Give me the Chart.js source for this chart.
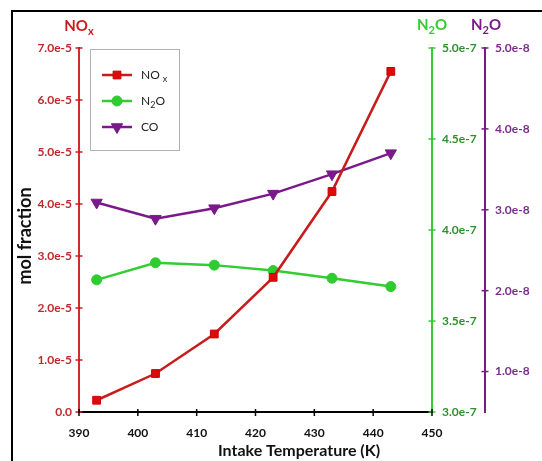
<!DOCTYPE html>
<html>
<head>
<meta charset="utf-8">
<script src="https://cdn.jsdelivr.net/npm/chart.js@4/dist/chart.umd.min.js"></script>
<style>
  html, body { margin: 0; padding: 0; background: #fff; }
  #wrap { position: relative; width: 542px; height: 461px; overflow: hidden; }
  #frame { position: absolute; left: 11px; top: 10px; width: 600px; height: 500px; border: 2px solid #000; }
  #chart { position: absolute; left: 0; top: 0; }
</style>
</head>
<body>
<div id="wrap">
  <div id="frame"></div>
  <canvas id="chart" width="542" height="461"></canvas>
</div>
<script>
var temperatures = [393, 403, 413, 423, 433, 443];
var noxValues = [2.26e-6, 7.4e-6, 1.5e-5, 2.59e-5, 4.24e-5, 6.55e-5];
var n2oValues = [3.726e-7, 3.82e-7, 3.807e-7, 3.777e-7, 3.735e-7, 3.689e-7];
var coValues = [3.09e-8, 2.89e-8, 3.02e-8, 3.2e-8, 3.44e-8, 3.7e-8];

var xTicks = [390, 400, 410, 420, 430, 440, 450];
var noxTicks = [0, 1e-5, 2e-5, 3e-5, 4e-5, 5e-5, 6e-5, 7e-5];
var n2oTicks = [3e-7, 3.5e-7, 4e-7, 4.5e-7, 5e-7];
var coTicks = [1e-8, 2e-8, 3e-8, 4e-8, 5e-8];

var FONT = 'Lato, "Open Sans", sans-serif';
var RED = '#c81c1c', RED_TEXT = '#c0282d';
var GREEN = '#33cc33', GREEN_TEXT = '#2f8f2f';
var PURPLE = '#7a1a8a', PURPLE_TEXT = '#7b2d8b';

function points(values) {
  return temperatures.map(function (t, i) { return { x: t, y: values[i] }; });
}

function setTicks(list) {
  return function (scale) {
    scale.ticks = list.map(function (v) { return { value: v }; });
  };
}

function fmt(v) {
  return v === 0 ? '0.0' : v.toExponential(1);
}

function fixWidth(w) {
  return function (scale) { scale.width = w; };
}

// text with subscripts: parts = [[text, isSub], ...]
function drawParts(ctx, parts, cx, baseline, size, color, weight) {
  var subSize = Math.round(size * 0.75);
  var total = 0;
  parts.forEach(function (p) {
    ctx.font = weight + ' ' + (p[1] ? subSize : size) + 'px ' + FONT;
    total += ctx.measureText(p[0]).width;
  });
  var x = cx - total / 2;
  ctx.fillStyle = color;
  ctx.textAlign = 'left';
  ctx.textBaseline = 'alphabetic';
  parts.forEach(function (p) {
    ctx.font = weight + ' ' + (p[1] ? subSize : size) + 'px ' + FONT;
    ctx.fillText(p[0], x, baseline + (p[1] ? size * 0.25 : 0));
    x += ctx.measureText(p[0]).width;
  });
}

var decorPlugin = {
  id: 'decor',
  afterDraw: function (chart) {
    var ctx = chart.ctx;
    var s = chart.scales;
    ctx.save();

    // crossing tick marks
    ctx.lineWidth = 1.5;
    [['y', RED], ['y1', GREEN], ['y2', PURPLE]].forEach(function (a) {
      var sc = s[a[0]];
      var x0 = a[0] === 'y' ? sc.right : sc.left;
      ctx.strokeStyle = a[1];
      sc.ticks.forEach(function (t) {
        var y = sc.getPixelForValue(t.value);
        ctx.beginPath();
        ctx.moveTo(x0 - 3.5, y);
        ctx.lineTo(x0 + 3.5, y);
        ctx.stroke();
      });
    });
    ctx.strokeStyle = '#000';
    s.x.ticks.forEach(function (t) {
      var x = s.x.getPixelForValue(t.value);
      ctx.beginPath();
      ctx.moveTo(x, s.x.top - 3);
      ctx.lineTo(x, s.x.top + 4);
      ctx.stroke();
    });

    // axis titles
    drawParts(ctx, [['NO', false], ['x', true]], s.y.right, 31, 15, RED, 'bold');
    drawParts(ctx, [['N', false], ['2', true], ['O', false]], s.y1.left, 30, 15, GREEN, 'bold');
    drawParts(ctx, [['N', false], ['2', true], ['O', false]], s.y2.left + 1, 30, 15, PURPLE, 'bold');

    ctx.fillStyle = '#111';
    ctx.font = 'bold 16px ' + FONT;
    ctx.textAlign = 'center';
    ctx.textBaseline = 'middle';
    ctx.fillText('Intake Temperature (K)', 299, 451);
    ctx.save();
    ctx.translate(25, 236);
    ctx.rotate(-Math.PI / 2);
    ctx.font = 'bold 18px ' + FONT;
    ctx.fillText('mol fraction', 0, 0);
    ctx.restore();

    // legend box
    ctx.fillStyle = '#fff';
    ctx.fillRect(90, 49, 89, 101);
    ctx.strokeStyle = '#b0b0b0';
    ctx.lineWidth = 1;
    ctx.strokeRect(90.5, 49.5, 89, 101);

    var labels = [
      [['NO ', false], ['x', true]],
      [['N', false], ['2', true], ['O', false]],
      [['CO', false]]
    ];
    var rows = [75, 101, 127];
    chart.data.datasets.forEach(function (ds, i) {
      var y = rows[i];
      ctx.strokeStyle = ds.borderColor;
      ctx.lineWidth = ds.borderWidth;
      ctx.beginPath();
      ctx.moveTo(102, y);
      ctx.lineTo(132, y);
      ctx.stroke();
      ctx.fillStyle = ds.pointBackgroundColor;
      ctx.strokeStyle = ds.pointBorderColor;
      ctx.lineWidth = 1;
      if (Chart.helpers && Chart.helpers.drawPoint) {
        Chart.helpers.drawPoint(ctx, {
          pointStyle: ds.pointStyle,
          rotation: ds.pointRotation || 0,
          radius: ds.pointRadius,
          borderWidth: 1
        }, 117, y);
      }
      var lbl = labels[i];
      var w = 0;
      lbl.forEach(function (p) {
        ctx.font = (p[1] ? 9 : 12) + 'px ' + FONT;
        w += ctx.measureText(p[0]).width;
      });
      drawParts(ctx, lbl, 141 + w / 2, y + 4, 12, '#222', 'normal');
    });

    ctx.restore();
  }
};

var ctx = document.getElementById('chart').getContext('2d');

new Chart(ctx, {
  type: 'line',
  data: {
    datasets: [
      {
        label: 'NOx',
        data: points(noxValues),
        yAxisID: 'y',
        borderColor: RED,
        borderWidth: 2.5,
        pointStyle: 'rect',
        pointRadius: 5.5,
        pointBackgroundColor: '#dd0a0a',
        pointBorderColor: '#cc0000',
        pointBorderWidth: 1
      },
      {
        label: 'N2O',
        data: points(n2oValues),
        yAxisID: 'y1',
        borderColor: GREEN,
        borderWidth: 2.5,
        pointStyle: 'circle',
        pointRadius: 5,
        pointBackgroundColor: '#2ecc2e',
        pointBorderColor: '#2ecc2e',
        pointBorderWidth: 1
      },
      {
        label: 'CO',
        data: points(coValues),
        yAxisID: 'y2',
        borderColor: PURPLE,
        borderWidth: 2.5,
        pointStyle: 'triangle',
        pointRotation: 180,
        pointRadius: 6.5,
        pointBackgroundColor: PURPLE,
        pointBorderColor: PURPLE,
        pointBorderWidth: 1
      }
    ]
  },
  options: {
    responsive: false,
    animation: false,
    layout: { padding: { left: 0, top: 48, right: 0, bottom: 0 } },
    elements: { line: { tension: 0 } },
    plugins: {
      legend: { display: false },
      tooltip: { enabled: false }
    },
    scales: {
      x: {
        type: 'linear',
        min: 390,
        max: 450,
        afterBuildTicks: setTicks(xTicks),
        afterFit: function (scale) { scale.height = 49; },
        border: { display: true, color: '#000', width: 2 },
        grid: { drawOnChartArea: false, drawTicks: false },
        ticks: {
          padding: 14,
          color: '#111',
          font: { family: FONT, size: 12, weight: 'bold' },
          callback: function (v) { return String(v); }
        }
      },
      y: {
        position: 'left',
        min: 0,
        max: 7e-5,
        afterBuildTicks: setTicks(noxTicks),
        afterFit: fixWidth(79),
        border: { display: true, color: '#d42a2a', width: 2 },
        grid: { drawOnChartArea: false, drawTicks: false },
        ticks: {
          padding: 7,
          color: RED_TEXT,
          font: { family: FONT, size: 12, weight: 'bold' },
          callback: fmt
        }
      },
      y1: {
        position: 'right',
        weight: 0,
        min: 3e-7,
        max: 5e-7,
        afterBuildTicks: setTicks(n2oTicks),
        afterFit: fixWidth(53),
        border: { display: true, color: GREEN, width: 2 },
        grid: { drawOnChartArea: false, drawTicks: false },
        ticks: {
          padding: 10,
          color: GREEN_TEXT,
          font: { family: FONT, size: 12, weight: 'bold' },
          callback: fmt
        }
      },
      y2: {
        position: 'right',
        weight: 1,
        min: 0.5e-8,
        max: 5e-8,
        afterBuildTicks: setTicks(coTicks),
        afterFit: fixWidth(57),
        border: { display: true, color: PURPLE, width: 2 },
        grid: { drawOnChartArea: false, drawTicks: false },
        ticks: {
          padding: 10,
          color: PURPLE_TEXT,
          font: { family: FONT, size: 12, weight: 'bold' },
          callback: fmt
        }
      }
    }
  },
  plugins: [decorPlugin]
});
</script>
</body>
</html>
